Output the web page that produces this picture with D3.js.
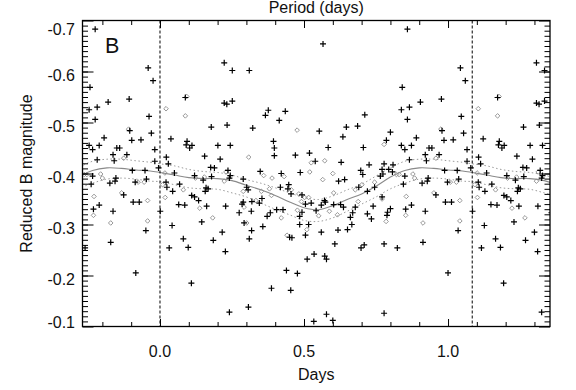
<!DOCTYPE html>
<html><head><meta charset="utf-8">
<script src="https://cdn.jsdelivr.net/npm/d3@7"></script>
<style>body{margin:0;background:#fff}svg{display:block;font-family:"Liberation Sans",Arial,Helvetica,sans-serif}</style>
</head><body><svg id="c" width="576" height="390"></svg>
<script>
// ---- data ----
const period = 1.084;
// [phase (days), reduced B magnitude] — crosses (black)
const plusPoints = [
[0.223,-0.617],[0.251,-0.602],[0.310,-0.602],[0.088,-0.549],[0.223,-0.538],[0.232,-0.536],[0.251,-0.542],[0.178,-0.491],[0.233,-0.495],[0.322,-0.489],
[0.038,-0.468],[0.094,-0.463],[0.091,-0.456],[0.111,-0.455],[0.103,-0.450],[0.201,-0.455],[0.244,-0.455],[0.022,-0.432],[0.029,-0.419],[0.155,-0.434],
[0.209,-0.428],[0.176,-0.412],[0.189,-0.411],[0.050,-0.401],[0.236,-0.406],[0.244,-0.396],[0.348,-0.404],[0.021,-0.383],[0.120,-0.396],[0.150,-0.387],
[0.179,-0.394],[0.241,-0.391],[0.289,-0.389],[0.068,-0.379],[0.044,-0.365],[0.024,-0.373],[0.160,-0.372],[0.157,-0.365],[0.167,-0.370],[0.301,-0.373],
[0.306,-0.368],[0.110,-0.357],[0.120,-0.354],[0.134,-0.347],[0.354,-0.351],[0.345,-0.342],[0.319,-0.345],[0.289,-0.344],[0.285,-0.340],[0.065,-0.339],
[0.086,-0.338],[0.162,-0.336],[0.228,-0.336],[0.275,-0.323],[0.317,-0.326],[0.001,-0.326],[0.145,-0.305],[0.292,-0.303],[0.042,-0.298],[0.357,-0.296],
[0.216,-0.285],[0.318,-0.288],[0.081,-0.272],[0.185,-0.269],[0.310,-0.272],[0.032,-0.254],[0.098,-0.255],[0.227,-0.247],[0.109,-0.185],[0.307,-0.138],
[0.241,-0.128],
[0.566,-0.654],[0.376,-0.524],[0.366,-0.514],[0.435,-0.522],[0.414,-0.504],[0.711,-0.515],[0.553,-0.483],[0.647,-0.491],[0.686,-0.493],[0.635,-0.472],
[0.394,-0.463],[0.397,-0.450],[0.397,-0.435],[0.470,-0.436],[0.519,-0.440],[0.584,-0.451],[0.706,-0.451],[0.539,-0.424],[0.629,-0.422],[0.487,-0.402],
[0.697,-0.406],[0.421,-0.400],[0.620,-0.385],[0.641,-0.388],[0.704,-0.398],[0.447,-0.378],[0.444,-0.370],[0.418,-0.373],[0.455,-0.360],[0.690,-0.373],
[0.720,-0.365],[0.493,-0.358],[0.505,-0.340],[0.525,-0.342],[0.560,-0.338],[0.571,-0.347],[0.574,-0.344],[0.603,-0.339],[0.627,-0.339],[0.542,-0.327],
[0.405,-0.329],[0.427,-0.329],[0.372,-0.316],[0.383,-0.323],[0.493,-0.324],[0.485,-0.316],[0.637,-0.334],[0.678,-0.334],[0.669,-0.323],[0.661,-0.314],
[0.720,-0.321],[0.485,-0.300],[0.516,-0.300],[0.666,-0.300],[0.651,-0.290],[0.618,-0.289],[0.560,-0.285],[0.505,-0.279],[0.450,-0.275],[0.458,-0.274],
[0.607,-0.262],[0.709,-0.260],[0.698,-0.254],[0.535,-0.242],[0.572,-0.238],[0.578,-0.232],[0.511,-0.232],[0.439,-0.210],[0.477,-0.204],[0.387,-0.175],
[0.454,-0.171],[0.578,-0.124],[0.534,-0.110],[0.600,-0.112],
[0.859,-0.683],[1.043,-0.607],[1.060,-0.582],[0.841,-0.569],[0.977,-0.546],[0.904,-0.540],[0.866,-0.530],[0.838,-0.525],[0.859,-0.506],[1.046,-0.512],
[0.800,-0.481],[0.786,-0.465],[1.054,-0.479],[0.890,-0.470],[0.838,-0.455],[0.850,-0.447],[0.873,-0.455],[0.979,-0.484],[0.986,-0.465],[1.018,-0.466],
[0.934,-0.450],[0.944,-0.450],[1.066,-0.447],[0.969,-0.437],[0.921,-0.437],[0.925,-0.425],[0.866,-0.427],[1.066,-0.424],[0.726,-0.417],[0.778,-0.419],
[0.809,-0.417],[0.771,-0.408],[0.794,-0.408],[0.807,-0.403],[0.765,-0.395],[0.774,-0.399],[0.850,-0.395],[0.988,-0.406],[1.032,-0.406],[1.079,-0.411],
[0.931,-0.391],[0.928,-0.385],[0.910,-0.381],[0.998,-0.383],[1.037,-0.389],[0.845,-0.379],[0.745,-0.373],[0.771,-0.354],[0.958,-0.358],[0.740,-0.336],
[0.853,-0.330],[0.873,-0.338],[0.800,-0.331],[0.991,-0.344],[1.012,-0.344],[0.790,-0.324],[0.788,-0.318],[0.921,-0.326],[0.734,-0.311],[1.035,-0.288],
[0.778,-0.262],[0.824,-0.254],[0.913,-0.265],[1.000,-0.205],[0.778,-0.126]
];
// [phase, magnitude] — diamonds (grey)
const diamondPoints = [
[0.021,-0.527],[0.088,-0.513],[0.093,-0.551],[0.308,-0.432],[0.017,-0.401],[0.009,-0.378],[0.018,-0.353],[0.081,-0.368],[0.123,-0.391],[0.154,-0.393],
[0.223,-0.385],[0.229,-0.403],[0.138,-0.332],[0.183,-0.313],[0.289,-0.365],[0.292,-0.334],[0.301,-0.303],[0.333,-0.347],[0.352,-0.365],
[0.476,-0.485],[0.525,-0.421],[0.572,-0.425],[0.520,-0.403],[0.600,-0.400],[0.565,-0.388],[0.360,-0.396],[0.389,-0.391],[0.431,-0.394],[0.380,-0.370],
[0.387,-0.357],[0.456,-0.368],[0.482,-0.360],[0.491,-0.345],[0.502,-0.353],[0.516,-0.353],[0.477,-0.328],[0.421,-0.313],[0.551,-0.317],[0.588,-0.326],
[0.616,-0.319],[0.603,-0.362],[0.510,-0.290],[0.441,-0.279],[0.678,-0.368],[0.701,-0.378],[0.688,-0.345],
[0.778,-0.457],[0.975,-0.487],[0.958,-0.430],[0.821,-0.398],[0.830,-0.398],[0.878,-0.399],[0.884,-0.391],[1.029,-0.383],[0.745,-0.383],[0.771,-0.350],
[0.855,-0.355],[0.951,-0.362],[1.041,-0.347],[0.853,-0.318],[0.785,-0.306],[0.913,-0.303],[1.041,-0.307],[1.008,-0.383]
];
// model curve (solid) and its envelope (dotted), sampled over one period
const curvePhase = [0.00,0.05,0.10,0.15,0.20,0.25,0.30,0.35,0.40,0.45,0.50,0.55,0.60,0.65,0.70,0.75,0.80,0.85,0.90,0.95,1.00,1.05];
const curveMid   = [-0.402,-0.397,-0.392,-0.390,-0.390,-0.386,-0.377,-0.368,-0.357,-0.344,-0.333,-0.329,-0.337,-0.349,-0.360,-0.375,-0.393,-0.406,-0.411,-0.410,-0.407,-0.405];
const curveUpper = [-0.419,-0.415,-0.408,-0.404,-0.402,-0.397,-0.388,-0.381,-0.372,-0.362,-0.353,-0.349,-0.356,-0.368,-0.379,-0.395,-0.411,-0.424,-0.428,-0.428,-0.425,-0.422];
const curveLower = [-0.384,-0.378,-0.372,-0.370,-0.369,-0.362,-0.354,-0.342,-0.330,-0.319,-0.308,-0.306,-0.313,-0.326,-0.340,-0.354,-0.370,-0.381,-0.389,-0.391,-0.389,-0.385];
const xMajorTicks = [0.0, 0.5, 1.0];
const xTickLabels = ["0.0", "0.5", "1.0"];
const xMinorTicks = [-0.2,-0.1,0.1,0.2,0.3,0.4,0.6,0.7,0.8,0.9,1.1,1.2,1.3];
const yMajorTicks = [-0.7,-0.6,-0.5,-0.4,-0.3,-0.2,-0.1];
const yTickLabels = ["-0.7","-0.6","-0.5","-0.4","-0.3","-0.2","-0.1"];

// ---- drawing ----
const L = 82.5, R = 550, T = 20.5, B = 326.5;
const svg = d3.select("#c");
const x = d3.scaleLinear().domain([-0.269, 1.354]).range([L, R]);
const y = d3.scaleLinear().domain([-0.7, -0.1]).range([T, B]);
const [xmin, xmax] = x.domain();

svg.append("defs").append("clipPath").attr("id","clip")
  .append("rect").attr("x",L).attr("y",T).attr("width",R-L).attr("height",B-T);
const plot = svg.append("g").attr("clip-path","url(#clip)");

// folded curves repeated over three cycles
function folded(vals){
  const out = [];
  for (const k of [-1,0,1]) curvePhase.forEach((p,i)=>out.push([p + k*period, vals[i]]));
  out.push([curvePhase[0] + 2*period, vals[0]]);
  return out;
}
const line = d3.line().x(d=>x(d[0])).y(d=>y(d[1])).curve(d3.curveCatmullRom.alpha(0.5));
plot.append("path").attr("d", line(folded(curveUpper))).attr("fill","none")
  .attr("stroke","#9a9a9a").attr("stroke-width",1).attr("stroke-dasharray","1.5,2.5");
plot.append("path").attr("d", line(folded(curveLower))).attr("fill","none")
  .attr("stroke","#9a9a9a").attr("stroke-width",1).attr("stroke-dasharray","1.5,2.5");
plot.append("path").attr("d", line(folded(curveMid))).attr("fill","none")
  .attr("stroke","#8a8a8a").attr("stroke-width",1.1);

function repeat(pts){
  const out = [];
  for (const k of [-1,0,1]) pts.forEach(d=>{const p=d[0]+k*period; if(p>=xmin-0.005 && p<=xmax+0.005) out.push([p,d[1]]);});
  return out;
}
plot.selectAll("path.dia").data(repeat(diamondPoints)).enter().append("path").attr("class","dia")
  .attr("d","M0,-2.3L2.3,0L0,2.3L-2.3,0Z")
  .attr("transform",d=>`translate(${x(d[0])},${y(d[1])})`)
  .attr("fill","none").attr("stroke","#8c8c8c").attr("stroke-width",0.9);
plot.selectAll("path.pl").data(repeat(plusPoints)).enter().append("path").attr("class","pl")
  .attr("d","M-3,0H3M0,-3V3")
  .attr("transform",d=>`translate(${x(d[0])},${y(d[1])})`)
  .attr("stroke","#000").attr("stroke-width",1.2);

// vertical dotted lines at phase 0 and one period
svg.selectAll("line.vd").data([0, period]).enter().append("line").attr("class","vd")
  .attr("x1",d=>x(d)).attr("x2",d=>x(d)).attr("y1",T).attr("y2",B)
  .attr("stroke","#000").attr("stroke-width",1).attr("stroke-dasharray","3,2");

// axes (ticks inward)
function styleAxis(g){ g.select(".domain").remove(); g.selectAll("line").attr("stroke","#000").attr("stroke-width",1); g.selectAll("text").remove(); }
svg.append("g").attr("transform",`translate(0,${B})`).call(d3.axisBottom(x).tickValues(xMajorTicks).tickSize(-7.5)).call(styleAxis);
svg.append("g").attr("transform",`translate(0,${B})`).call(d3.axisBottom(x).tickValues(xMinorTicks).tickSize(-4.5)).call(styleAxis);
svg.append("g").attr("transform",`translate(0,${T})`).call(d3.axisTop(x).tickValues(xMajorTicks).tickSize(-7.5)).call(styleAxis);
svg.append("g").attr("transform",`translate(0,${T})`).call(d3.axisTop(x).tickValues(xMinorTicks).tickSize(-4.5)).call(styleAxis);
const yMinor = d3.range(-0.69, -0.105, 0.01);
svg.append("g").attr("transform",`translate(${L},0)`).call(d3.axisLeft(y).tickValues(yMajorTicks).tickSize(-11)).call(styleAxis);
svg.append("g").attr("transform",`translate(${L},0)`).call(d3.axisLeft(y).tickValues(yMinor).tickSize(-5.5)).call(styleAxis);
svg.append("g").attr("transform",`translate(${R},0)`).call(d3.axisRight(y).tickValues(yMajorTicks).tickSize(-11)).call(styleAxis);
svg.append("g").attr("transform",`translate(${R},0)`).call(d3.axisRight(y).tickValues(yMinor).tickSize(-5.5)).call(styleAxis);

svg.append("rect").attr("x",L).attr("y",T).attr("width",R-L).attr("height",B-T)
  .attr("fill","none").attr("stroke","#000").attr("stroke-width",1.3);

// tick labels
svg.selectAll("text.xl").data(xMajorTicks).enter().append("text").attr("class","xl")
  .attr("x",d=>x(d)).attr("y",357).attr("text-anchor","middle").attr("font-size",16).attr("fill","#111")
  .text((d,i)=>xTickLabels[i]);
const n = yMajorTicks.length;
svg.selectAll("text.yl").data(yMajorTicks).enter().append("text").attr("class","yl")
  .attr("x",75).attr("y",(d,i)=> i===0 ? y(d)+14.5 : (i===n-1 ? y(d)+1.5 : y(d)+9))
  .attr("text-anchor","end").attr("font-size",16).attr("fill","#111")
  .text((d,i)=>yTickLabels[i]);

// titles
svg.append("text").attr("x",(L+R)/2).attr("y",380).attr("text-anchor","middle").attr("font-size",16).attr("fill","#111").text("Days");
svg.append("text").attr("x",(L+R)/2).attr("y",13).attr("text-anchor","middle").attr("font-size",16).attr("fill","#111").text("Period (days)");
svg.append("text").attr("transform",`translate(31.5,${(T+B)/2}) rotate(-90)`).attr("text-anchor","middle").attr("font-size",16).attr("fill","#111").text("Reduced B magnitude");
svg.append("text").attr("x",105).attr("y",53).attr("font-size",21.5).attr("fill","#111").text("B");
</script></body></html>
